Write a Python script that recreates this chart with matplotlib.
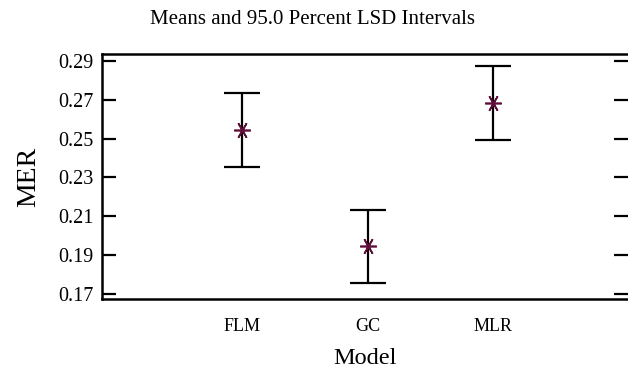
import matplotlib
matplotlib.use("Agg")
import matplotlib.pyplot as plt
import numpy as np

# group means and LSD interval half-widths
models = ["FLM", "GC", "MLR"]
means = [0.2545, 0.1945, 0.2685]
half_width = [0.019, 0.019, 0.019]
yticks = [0.17, 0.19, 0.21, 0.23, 0.25, 0.27, 0.29]

plt.rcParams['font.family'] = ['Liberation Serif', 'DejaVu Serif']

fig = plt.figure(figsize=(6.28, 3.69), dpi=100)
ax = fig.add_axes([102/628, 1 - 299/369, 1 - 102/628, (299 - 54)/369])

x = np.arange(1, len(models) + 1)
ax.errorbar(x, means, yerr=half_width, fmt='none', ecolor='black',
            elinewidth=1.6, capsize=13, capthick=1.6)
ax.plot(x, means, linestyle='none', marker=(6, 2, 90), markersize=12,
        markeredgewidth=1.2, color='#5e0c38', zorder=3)

ax.set_xlim(-0.12, 4.08)
ax.set_ylim(0.1674, 0.2936)
ax.set_yticks(yticks)
ax.set_yticklabels(["%.2f" % t for t in yticks])
ax.set_xticks(x)
ax.set_xticklabels(models)

ax.tick_params(axis='y', direction='in', length=10, width=1.6, labelsize=14.5,
               right=True, pad=6)
ax.tick_params(axis='x', length=0, labelsize=13, pad=14)
for side in ['left', 'top', 'bottom']:
    ax.spines[side].set_linewidth(1.8)
ax.spines['right'].set_visible(False)

ax.set_xlabel("Model", fontsize=17.5, labelpad=9)
ax.set_ylabel("MER", fontsize=20, labelpad=12)
fig.text(313/628, 1 - 19/369, "Means and 95.0 Percent LSD Intervals",
         fontsize=15, ha='center', va='center')

fig.savefig("out.png", dpi=100)
